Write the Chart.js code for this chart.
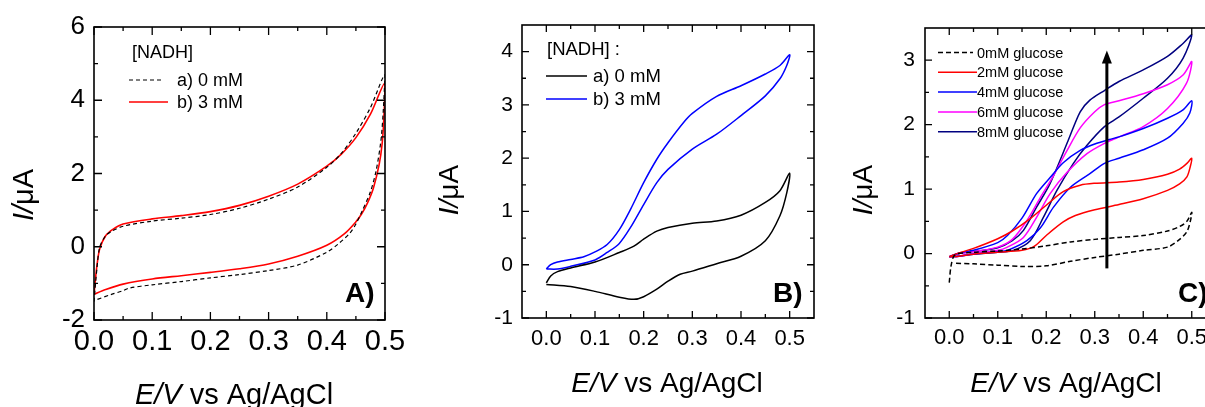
<!DOCTYPE html>
<html>
<head>
<meta charset="utf-8">
<script src="https://cdn.jsdelivr.net/npm/chart.js@4.4.1/dist/chart.umd.min.js"></script>
<style>
html, body { margin: 0; padding: 0; background: #fff; overflow: hidden; width: 1205px; height: 407px; }
canvas { position: absolute; top: 0; }
#chartA { left: 0; }
#chartB { left: 420px; }
#chartC { left: 840px; }
</style>
</head>
<body>
<canvas id="chartA" width="440" height="430"></canvas>
<canvas id="chartB" width="420" height="430"></canvas>
<canvas id="chartC" width="400" height="430"></canvas>
<script>
// ---- panel A : [NADH] 0 / 3 mM ----
const a0E = [0, 0.005, 0.01, 0.02, 0.03, 0.05, 0.1, 0.15, 0.2, 0.25, 0.3, 0.35, 0.4, 0.425, 0.45, 0.475, 0.5,
             0.497, 0.493, 0.485, 0.475, 0.46, 0.45, 0.44, 0.42, 0.4, 0.35, 0.3, 0.25, 0.2, 0.15, 0.1, 0.06, 0.05, 0.03, 0];
const a0I = [-1.5, -0.6, 0.0, 0.3, 0.42, 0.56, 0.70, 0.78, 0.88, 1.05, 1.30, 1.63, 2.17, 2.55, 3.1, 3.8, 4.7,
             3.7, 2.9, 2.1, 1.5, 0.95, 0.62, 0.38, 0.08, -0.15, -0.5, -0.65, -0.76, -0.85, -0.95, -1.04, -1.13, -1.2, -1.3, -1.47];
const a3E = [0, 0.003, 0.006, 0.01, 0.02, 0.033, 0.05, 0.1, 0.15, 0.2, 0.25, 0.3, 0.35, 0.4, 0.425, 0.45, 0.475, 0.5,
             0.498, 0.495, 0.49, 0.48, 0.47, 0.46, 0.45, 0.43, 0.4, 0.35, 0.3, 0.25, 0.2, 0.15, 0.1, 0.05, 0.02, 0];
const a3I = [-1.3, -0.8, -0.4, -0.05, 0.3, 0.48, 0.62, 0.76, 0.85, 0.96, 1.13, 1.38, 1.71, 2.2, 2.53, 2.98, 3.62, 4.48,
             3.5, 2.8, 2.25, 1.6, 1.2, 0.9, 0.68, 0.35, 0.04, -0.26, -0.47, -0.6, -0.7, -0.79, -0.88, -1.02, -1.17, -1.3];

// ---- panel B : [NADH] 0 / 3 mM ----
const b0E = [0, 0.009, 0.023, 0.05, 0.1, 0.15, 0.18, 0.2, 0.227, 0.25, 0.3, 0.35, 0.4, 0.45, 0.48, 0.5,
             0.494, 0.48, 0.45, 0.4, 0.35, 0.3, 0.275, 0.25, 0.227, 0.2, 0.18, 0.15, 0.1, 0.05, 0];
const b0I = [-0.34, -0.21, -0.13, -0.06, 0.05, 0.23, 0.35, 0.48, 0.63, 0.70, 0.78, 0.82, 0.93, 1.17, 1.39, 1.72,
             1.35, 0.92, 0.45, 0.16, 0.02, -0.12, -0.18, -0.31, -0.46, -0.60, -0.65, -0.61, -0.50, -0.41, -0.37];
const b3E = [0, 0.009, 0.023, 0.05, 0.077, 0.1, 0.125, 0.15, 0.173, 0.2, 0.227, 0.25, 0.282, 0.3, 0.35, 0.4, 0.45, 0.48, 0.5,
             0.494, 0.48, 0.45, 0.4, 0.35, 0.3, 0.25, 0.227, 0.2, 0.173, 0.15, 0.125, 0.1, 0.05, 0.023, 0];
const b3I = [-0.08, 0.0, 0.05, 0.10, 0.15, 0.24, 0.38, 0.66, 1.04, 1.54, 1.98, 2.29, 2.67, 2.84, 3.16, 3.36, 3.58, 3.74, 3.94,
             3.74, 3.49, 3.17, 2.80, 2.45, 2.17, 1.79, 1.54, 1.13, 0.70, 0.40, 0.23, 0.09, -0.03, -0.08, -0.08];

// ---- panel C : glucose 0..8 mM ----
const c0E = [0, 0.004, 0.012, 0.05, 0.1, 0.15, 0.2, 0.25, 0.3, 0.35, 0.4, 0.45, 0.475, 0.49, 0.5,
             0.497, 0.49, 0.475, 0.45, 0.4, 0.35, 0.3, 0.25, 0.2, 0.15, 0.1, 0.05, 0.01];
const c0I = [-0.45, -0.18, -0.02, 0.02, 0.04, 0.07, 0.12, 0.18, 0.22, 0.25, 0.28, 0.35, 0.42, 0.5, 0.64,
             0.50, 0.34, 0.22, 0.10, 0.05, -0.01, -0.06, -0.12, -0.19, -0.2, -0.18, -0.16, -0.15];
const c2E = [0, 0.02, 0.05, 0.1, 0.13, 0.165, 0.2, 0.235, 0.27, 0.3, 0.35, 0.4, 0.45, 0.475, 0.49, 0.5,
             0.497, 0.49, 0.475, 0.45, 0.4, 0.35, 0.3, 0.26, 0.235, 0.2, 0.175, 0.15, 0.1, 0.05, 0.02, 0];
const c2I = [-0.05, 0.01, 0.08, 0.23, 0.35, 0.53, 0.75, 0.96, 1.06, 1.09, 1.11, 1.15, 1.23, 1.31, 1.40, 1.48,
             1.35, 1.19, 1.08, 0.98, 0.85, 0.76, 0.68, 0.59, 0.49, 0.28, 0.11, 0.05, 0.02, -0.01, -0.04, -0.05];
const c4E = [0, 0.02, 0.05, 0.1, 0.12, 0.15, 0.18, 0.208, 0.235, 0.27, 0.3, 0.33, 0.35, 0.4, 0.45, 0.482, 0.5,
             0.496, 0.482, 0.45, 0.4, 0.35, 0.32, 0.29, 0.25, 0.215, 0.188, 0.16, 0.12, 0.1, 0.05, 0.02, 0];
const c4I = [-0.05, 0.01, 0.05, 0.17, 0.28, 0.55, 0.93, 1.18, 1.41, 1.60, 1.70, 1.77, 1.81, 1.94, 2.10, 2.23, 2.37,
             2.18, 2.02, 1.79, 1.61, 1.48, 1.40, 1.24, 1.03, 0.72, 0.40, 0.20, 0.05, 0.03, -0.01, -0.04, -0.05];
const c6E = [0, 0.02, 0.05, 0.1, 0.13, 0.16, 0.188, 0.215, 0.243, 0.27, 0.3, 0.32, 0.35, 0.4, 0.45, 0.482, 0.5,
             0.489, 0.45, 0.4, 0.35, 0.32, 0.284, 0.243, 0.208, 0.18, 0.153, 0.12, 0.1, 0.05, 0.02, 0];
const c6I = [-0.05, 0.0, 0.03, 0.10, 0.22, 0.51, 0.87, 1.21, 1.6, 1.95, 2.2, 2.31, 2.37, 2.48, 2.62, 2.77, 2.98,
             2.64, 2.25, 1.97, 1.81, 1.71, 1.55, 1.26, 0.93, 0.56, 0.25, 0.10, 0.05, 0.0, -0.04, -0.05];
const c8E = [0, 0.02, 0.05, 0.1, 0.13, 0.153, 0.18, 0.208, 0.245, 0.27, 0.29, 0.32, 0.35, 0.4, 0.45, 0.482, 0.5,
             0.482, 0.45, 0.4, 0.35, 0.32, 0.284, 0.256, 0.222, 0.194, 0.167, 0.132, 0.1, 0.05, 0.02, 0];
const c8I = [-0.05, 0.0, 0.03, 0.09, 0.2, 0.36, 0.72, 1.09, 1.75, 2.2, 2.38, 2.53, 2.67, 2.85, 3.06, 3.26, 3.39,
             3.03, 2.72, 2.41, 2.12, 1.97, 1.68, 1.4, 0.98, 0.56, 0.2, 0.05, 0.02, -0.01, -0.04, -0.05];
const arrowE = [0.325, 0.325];
const arrowI = [-0.23, 3.15];

// ---- axis ticks ----
const eMajor = [0, 0.1, 0.2, 0.3, 0.4, 0.5];
const eMinor = [0.05, 0.15, 0.25, 0.35, 0.45];
const aIMajor = [-2, 0, 2, 4, 6];
const aIMinor = [-1, 1, 3, 5];
const bIMajor = [-1, 0, 1, 2, 3, 4];
const bIMinor = [-0.5, 0.5, 1.5, 2.5, 3.5];
const cIMajor = [-1, 0, 1, 2, 3];
const cIMinor = [-0.5, 0.5, 1.5, 2.5];

const FONT = '"Liberation Sans", Arial, sans-serif';

function pts(E, I) {
    return E.map((e, k) => ({ x: e, y: I[k] }));
}

function near(list, v) {
    return list.some(m => Math.abs(m - v) < 1e-6);
}

function drawRich(ctx, parts, size, x, y, rot) {
    ctx.save();
    ctx.translate(x, y);
    ctx.rotate(rot);
    const fonts = parts.map(p => (p[1] ? 'italic ' : '') + size + 'px ' + FONT);
    let total = 0;
    parts.forEach((p, k) => { ctx.font = fonts[k]; total += ctx.measureText(p[0]).width; });
    let cx = -total / 2;
    ctx.textBaseline = 'alphabetic';
    ctx.textAlign = 'left';
    ctx.fillStyle = '#000';
    parts.forEach((p, k) => {
        ctx.font = fonts[k];
        ctx.fillText(p[0], cx, 0);
        cx += ctx.measureText(p[0]).width;
    });
    ctx.restore();
}

// frame, inward ticks, legend, titles, panel letter
const decor = {
    id: 'decor',
    afterDraw(chart, args, o) {
        const { ctx, chartArea: a, scales } = chart;
        ctx.save();
        ctx.strokeStyle = '#000';
        ctx.lineWidth = 1.3;
        const xs = scales.x, ys = scales.y;
        xs.ticks.forEach(t => {
            const p = xs.getPixelForValue(t.value);
            const len = near(o.xMajor, t.value) ? o.major : o.minor;
            ctx.beginPath();
            ctx.moveTo(p, a.bottom); ctx.lineTo(p, a.bottom - len);
            ctx.moveTo(p, a.top); ctx.lineTo(p, a.top + len);
            ctx.stroke();
        });
        ys.ticks.forEach(t => {
            const p = ys.getPixelForValue(t.value);
            const len = near(o.yMajor, t.value) ? o.major : o.minor;
            ctx.beginPath();
            ctx.moveTo(a.left, p); ctx.lineTo(a.left + len, p);
            ctx.moveTo(a.right, p); ctx.lineTo(a.right - len, p);
            ctx.stroke();
        });
        ctx.lineWidth = 1.6;
        ctx.strokeRect(a.left, a.top, a.width, a.height);

        // arrow
        if (o.arrow) {
            const x0 = xs.getPixelForValue(o.arrow.e[0]);
            const y0 = ys.getPixelForValue(o.arrow.i[0]);
            const y1 = ys.getPixelForValue(o.arrow.i[1]);
            ctx.lineWidth = 3;
            ctx.beginPath();
            ctx.moveTo(x0, y0); ctx.lineTo(x0, y1 + 10);
            ctx.stroke();
            ctx.fillStyle = '#000';
            ctx.beginPath();
            ctx.moveTo(x0, y1); ctx.lineTo(x0 - 5, y1 + 13); ctx.lineTo(x0 + 5, y1 + 13);
            ctx.closePath();
            ctx.fill();
        }

        // legend
        const L = o.legend;
        ctx.fillStyle = '#000';
        ctx.textBaseline = 'middle';
        ctx.textAlign = 'left';
        ctx.font = L.size + 'px ' + FONT;
        if (L.title) ctx.fillText(L.title, L.titleX, L.titleY);
        chart.data.datasets.forEach((ds, k) => {
            const y = L.y0 + k * L.dy;
            ctx.strokeStyle = ds.borderColor;
            ctx.lineWidth = ds.borderWidth;
            ctx.setLineDash(ds.borderDash || []);
            ctx.beginPath();
            ctx.moveTo(L.s0, y); ctx.lineTo(ds.borderDash ? L.s1 - 4 : L.s1, y);
            ctx.stroke();
            ctx.setLineDash([]);
            ctx.fillText(ds.label, L.tx, y + 1);
        });

        // axis titles
        drawRich(ctx, [['E/V', true], [' vs Ag/AgCl', false]], o.xt.size, o.xt.cx, o.xt.by, 0);
        drawRich(ctx, [['I/', true], ['\u03bcA', false]], o.yt.size, o.yt.bx, o.yt.cy, -Math.PI / 2);

        // panel letter
        ctx.font = 'bold ' + o.tag.size + 'px ' + FONT;
        ctx.textBaseline = 'alphabetic';
        ctx.fillStyle = '#000';
        ctx.fillText(o.tag.text, o.tag.x, o.tag.y);
        ctx.restore();
    }
};

function makeChart(id, datasets, c) {
    const xTicks = c.xMajor.concat(c.xMinor).sort((p, q) => p - q);
    const yTicks = c.yMajor.concat(c.yMinor).sort((p, q) => p - q);
    return new Chart(document.getElementById(id), {
        type: 'scatter',
        data: { datasets: datasets },
        options: {
            responsive: false,
            animation: false,
            devicePixelRatio: 1,
            events: [],
            layout: { padding: { left: 0, top: c.top, right: c.right, bottom: 0 } },
            elements: { point: { radius: 0 } },
            plugins: {
                legend: { display: false },
                tooltip: { enabled: false },
                decor: {
                    xMajor: c.xMajor, yMajor: c.yMajor, major: c.tickLen[0], minor: c.tickLen[1],
                    legend: c.legend, xt: c.xt, yt: c.yt, tag: c.tag, arrow: c.arrow
                }
            },
            scales: {
                x: {
                    type: 'linear', min: c.xMin, max: c.xMax,
                    afterBuildTicks: s => { s.ticks = xTicks.map(v => ({ value: v })); },
                    afterFit: s => { s.height = c.xH; },
                    grid: { display: false, drawTicks: false },
                    border: { display: false },
                    ticks: {
                        autoSkip: false, maxRotation: 0, color: '#000', padding: c.xPad,
                        font: { family: FONT, size: c.xFont },
                        callback: v => near(c.xMajor, v) ? v.toFixed(1) : ''
                    }
                },
                y: {
                    type: 'linear', min: c.yMin, max: c.yMax,
                    afterBuildTicks: s => { s.ticks = yTicks.map(v => ({ value: v })); },
                    afterFit: s => { s.width = c.yW; },
                    grid: { display: false, drawTicks: false },
                    border: { display: false },
                    ticks: {
                        autoSkip: false, color: '#000', padding: c.yPad,
                        font: { family: FONT, size: c.yFont },
                        callback: v => near(c.yMajor, v) ? String(Math.round(v)) : ''
                    }
                }
            }
        },
        plugins: [decor]
    });
}

function series(label, E, I, color, dash, width) {
    const ds = {
        label: label, data: pts(E, I), showLine: true, borderColor: color,
        borderWidth: width || 1.5, tension: 0.3, pointRadius: 0
    };
    if (dash) ds.borderDash = dash;
    return ds;
}

makeChart('chartA', [
    series('a) 0 mM', a0E, a0I, '#000000', [4, 3], 1.2),
    series('b) 3 mM', a3E, a3I, '#ff0000', null, 1.6)
], {
    xMin: 0, xMax: 0.5, yMin: -2, yMax: 6,
    xMajor: eMajor, xMinor: eMinor, yMajor: aIMajor, yMinor: aIMinor,
    top: 27, right: 55, xH: 110, yW: 94, xPad: 5, yPad: 9, xFont: 29, yFont: 26,
    tickLen: [8, 4],
    legend: { size: 18, title: '[NADH]', titleX: 132, titleY: 53, y0: 80, dy: 22, s0: 129, s1: 168, tx: 177 },
    xt: { size: 29, cx: 234, by: 404 },
    yt: { size: 29, bx: 33, cy: 195 },
    tag: { text: 'A)', size: 28, x: 345, y: 302 }
});

makeChart('chartB', [
    series('a) 0 mM', b0E, b0I, '#000000', null, 1.5),
    series('b) 3 mM', b3E, b3I, '#0000ff', null, 1.5)
], {
    xMin: -0.05, xMax: 0.55, yMin: -1, yMax: 4.5,
    xMajor: eMajor, xMinor: eMinor, yMajor: bIMajor, yMinor: bIMinor,
    top: 25, right: 26, xH: 112, yW: 102, xPad: 8, yPad: 9, xFont: 22, yFont: 21,
    tickLen: [7, 4],
    legend: { size: 18.5, title: '[NADH] :', titleX: 127, titleY: 50, y0: 76, dy: 23, s0: 126, s1: 167, tx: 173 },
    xt: { size: 28, cx: 247, by: 392 },
    yt: { size: 28, bx: 38, cy: 190 },
    tag: { text: 'B)', size: 28, x: 353, y: 302 }
});

makeChart('chartC', [
    series('0mM glucose', c0E, c0I, '#000000', [5, 3], 1.5),
    series('2mM glucose', c2E, c2I, '#ff0000', null, 1.5),
    series('4mM glucose', c4E, c4I, '#0000ff', null, 1.5),
    series('6mM glucose', c6E, c6I, '#ff00ff', null, 1.5),
    series('8mM glucose', c8E, c8I, '#000080', null, 1.5)
], {
    xMin: -0.05, xMax: 0.55, yMin: -1, yMax: 3.5,
    xMajor: eMajor, xMinor: eMinor, yMajor: cIMajor, yMinor: cIMinor,
    top: 28, right: 24, xH: 112, yW: 85, xPad: 7, yPad: 10, xFont: 22, yFont: 21,
    tickLen: [7, 4],
    legend: { size: 14.5, title: '', titleX: 0, titleY: 0, y0: 52.5, dy: 19.8, s0: 98, s1: 137, tx: 137 },
    xt: { size: 28, cx: 226, by: 392 },
    yt: { size: 28, bx: 32, cy: 190 },
    tag: { text: 'C)', size: 28, x: 338, y: 302 },
    arrow: { e: arrowE, i: arrowI }
});
</script>
</body>
</html>
